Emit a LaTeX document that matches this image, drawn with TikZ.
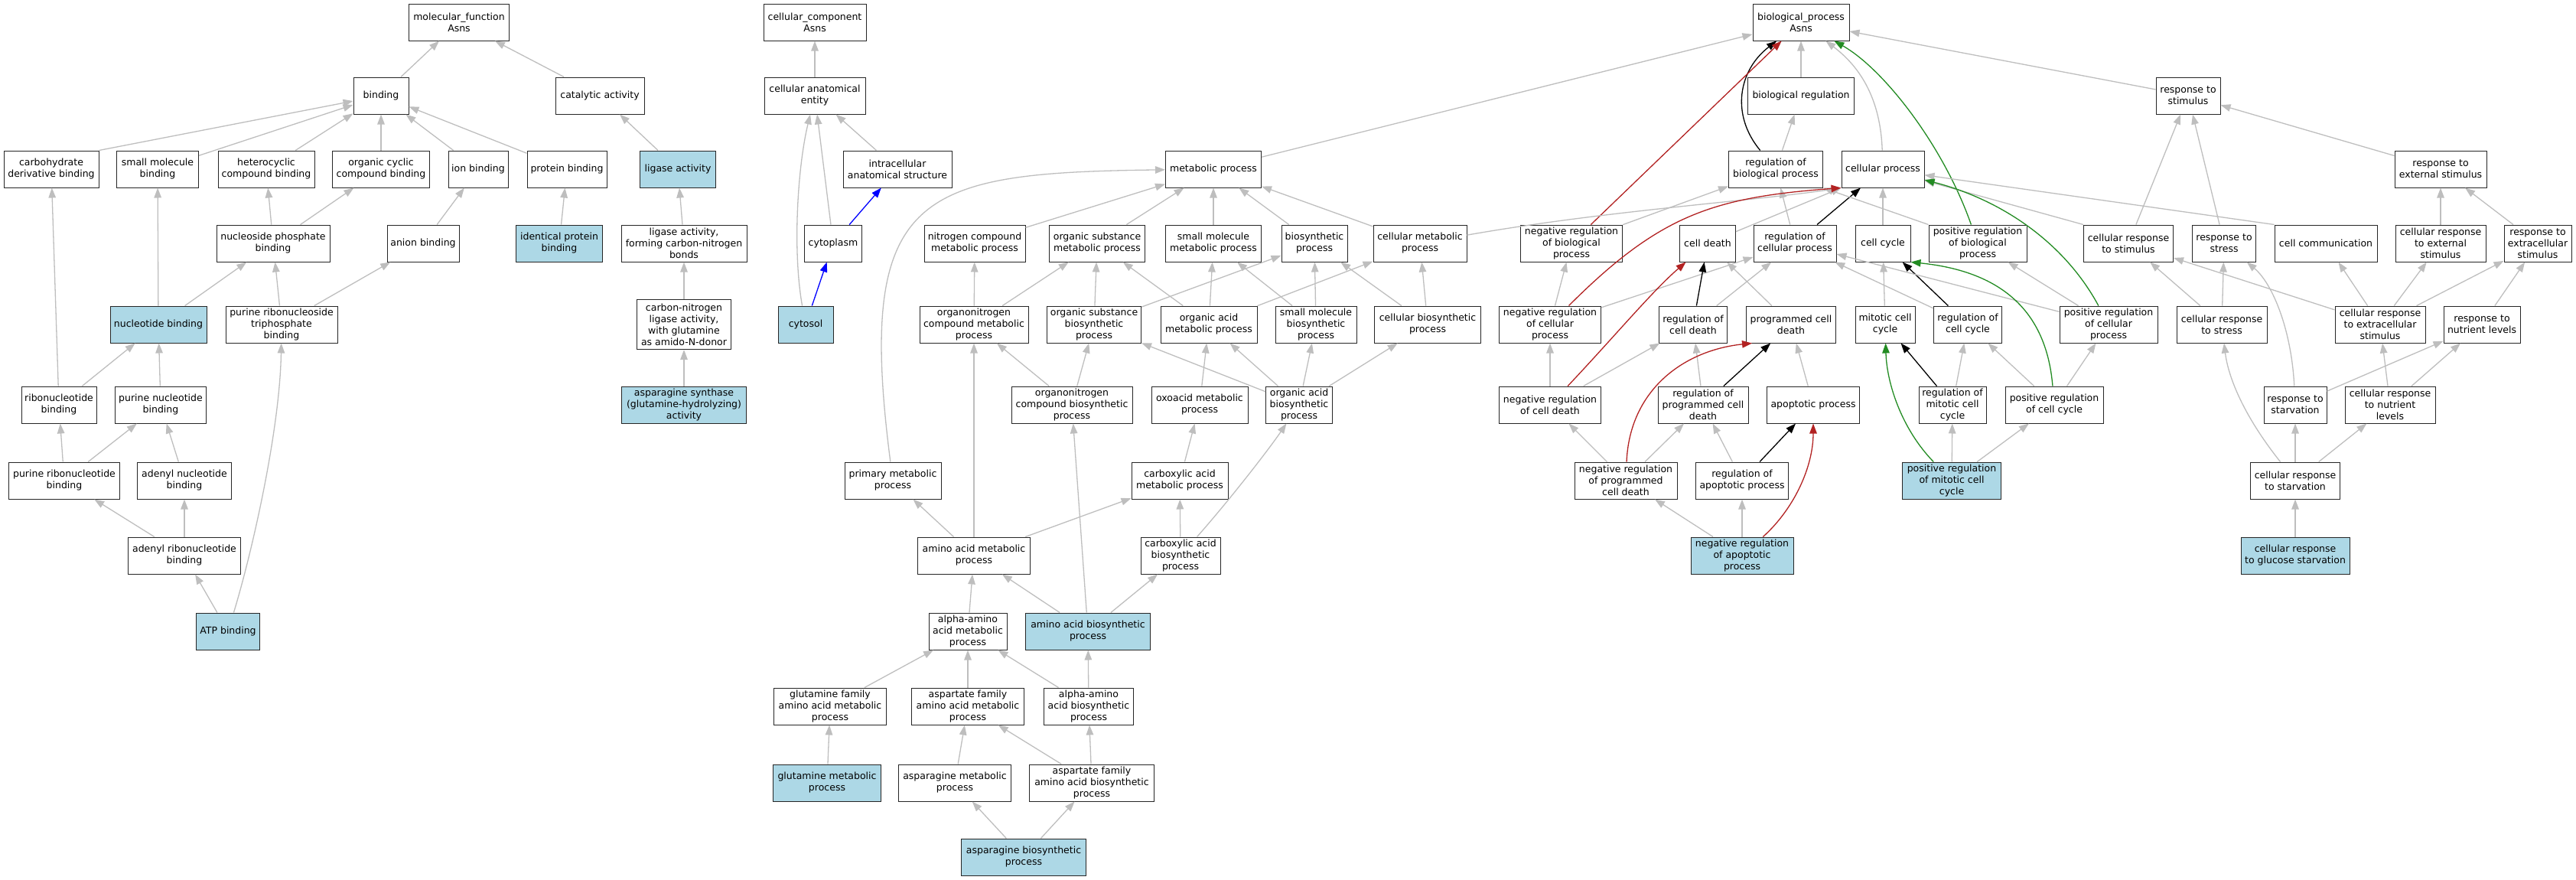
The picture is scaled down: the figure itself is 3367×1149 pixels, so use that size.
\documentclass[tikz,border=0pt]{standalone}
\usepackage{fontspec}
\setmainfont{DejaVu Sans}
\usetikzlibrary{arrows.meta}
\definecolor{isagray}{HTML}{BEBEBE}
\definecolor{hitblue}{HTML}{ADD8E6}
\definecolor{negred}{HTML}{B22222}
\definecolor{posgreen}{HTML}{228B22}
\tikzset{
  term/.style={draw=black!85, line width=1pt, fill=white, align=center, font=\fontsize{12.5}{15}\selectfont, minimum height=48pt, inner xsep=1.5pt, inner ysep=1pt},
  hit/.style={term, fill=hitblue},
  wd/.style={minimum width=#1pt},
  isa/.style={draw=isagray, line width=1.3pt, -{Triangle[length=13pt,width=9.5pt]}},
  partof/.style={isa, draw=blue},
  regs/.style={isa, draw=black},
  negregs/.style={isa, draw=negred},
  posregs/.style={isa, draw=posgreen}
}
\begin{document}
\begin{tikzpicture}[x=1pt,y=-1pt]
\useasboundingbox (0,0) rectangle (3367,1149);
\node[term,wd=131] (mf) at (600,29) {molecular\_function\\Asns};
\node[term,wd=72] (bind) at (498,125) {binding};
\node[term,wd=116] (catal) at (784,125) {catalytic activity};
\node[term,wd=124] (carbder) at (67,221) {carbohydrate\\derivative binding};
\node[term,wd=107] (smolb) at (206,221) {small molecule\\binding};
\node[term,wd=126] (hetcyc) at (348,221) {heterocyclic\\compound binding};
\node[term,wd=127] (orgcyc) at (498,221) {organic cyclic\\compound binding};
\node[term,wd=78] (ionb) at (625,221) {ion binding};
\node[term,wd=104] (protb) at (741,221) {protein binding};
\node[hit,wd=99] (ligase) at (886,221) {ligase activity};
\node[term,wd=148] (nucphos) at (357,318) {nucleoside phosphate\\binding};
\node[term,wd=94] (anion) at (553,318) {anion binding};
\node[hit,wd=113] (identp) at (731,318) {identical protein\\binding};
\node[term,wd=164] (ligcn) at (894,318) {ligase activity,\\forming carbon-nitrogen\\bonds};
\node[hit,wd=126] (nucb) at (207,424) {nucleotide binding};
\node[term,wd=146] (prntp) at (368,424) {purine ribonucleoside\\triphosphate\\binding};
\node[term,wd=123,minimum height=65pt] (cnglu) at (894,424) {carbon-nitrogen\\ligase activity,\\with glutamine\\as amido-N-donor};
\node[term,wd=98] (ribob) at (77,529) {ribonucleotide\\binding};
\node[term,wd=119] (purnb) at (210,529) {purine nucleotide\\binding};
\node[hit,wd=163] (asnsyn) at (894,529) {asparagine synthase\\(glutamine-hydrolyzing)\\activity};
\node[term,wd=145] (purrb) at (84,628) {purine ribonucleotide\\binding};
\node[term,wd=123] (adenb) at (241,628) {adenyl nucleotide\\binding};
\node[term,wd=147] (adenrb) at (241,726) {adenyl ribonucleotide\\binding};
\node[hit,wd=83] (atp) at (298,825) {ATP binding};
\node[term,wd=134] (cc) at (1065,29) {cellular\_component\\Asns};
\node[term,wd=132] (cae) at (1065,125) {cellular anatomical\\entity};
\node[term,wd=142] (intra) at (1173,221) {intracellular\\anatomical structure};
\node[term,wd=75] (cyto) at (1089,318) {cytoplasm};
\node[hit,wd=72] (cytosol) at (1053,424) {cytosol};
\node[term,wd=126] (bp) at (2354,29) {biological\_process\\Asns};
\node[term,wd=139] (bioreg) at (2354,125) {biological regulation};
\node[term,wd=84] (resstim) at (2860,125) {response to\\stimulus};
\node[term,wd=125] (metab) at (1586,221) {metabolic process};
\node[term,wd=123] (regbio) at (2321,221) {regulation of\\biological process};
\node[term,wd=108] (cellp) at (2461,221) {cellular process};
\node[term,wd=120] (resext) at (3190,221) {response to\\external stimulus};
\node[term,wd=132] (ncmp) at (1274,318) {nitrogen compound\\metabolic process};
\node[term,wd=125] (osmp) at (1434,318) {organic substance\\metabolic process};
\node[term,wd=125] (smmp) at (1586,318) {small molecule\\metabolic process};
\node[term,wd=86] (biosyn) at (1718,318) {biosynthetic\\process};
\node[term,wd=122] (cmp) at (1856,318) {cellular metabolic\\process};
\node[term,wd=133] (nrbio) at (2054,318) {negative regulation\\of biological\\process};
\node[term,wd=73] (celldeath) at (2232,318) {cell death};
\node[term,wd=108] (regcp) at (2346,318) {regulation of\\cellular process};
\node[term,wd=72] (cellcyc) at (2461,318) {cell cycle};
\node[term,wd=128] (prbio) at (2585,318) {positive regulation\\of biological\\process};
\node[term,wd=117] (crstim) at (2782,318) {cellular response\\to stimulus};
\node[term,wd=83] (rstress) at (2907,318) {response to\\stress};
\node[term,wd=134] (cellcom) at (3040,318) {cell communication};
\node[term,wd=118] (crext) at (3190,318) {cellular response\\to external\\stimulus};
\node[term,wd=88] (rextra) at (3317,318) {response to\\extracellular\\stimulus};
\node[term,wd=142] (oncmp) at (1273,424) {organonitrogen\\compound metabolic\\process};
\node[term,wd=123] (osbp) at (1430,424) {organic substance\\biosynthetic\\process};
\node[term,wd=126] (oamp) at (1580,424) {organic acid\\metabolic process};
\node[term,wd=106] (smbp) at (1720,424) {small molecule\\biosynthetic\\process};
\node[term,wd=139] (cbp) at (1866,424) {cellular biosynthetic\\process};
\node[term,wd=133] (nrcp) at (2026,424) {negative regulation\\of cellular\\process};
\node[term,wd=89] (regcd) at (2213,424) {regulation of\\cell death};
\node[term,wd=117] (pcd) at (2341,424) {programmed cell\\death};
\node[term,wd=78] (mitcc) at (2464,424) {mitotic cell\\cycle};
\node[term,wd=89] (regcc) at (2572,424) {regulation of\\cell cycle};
\node[term,wd=128] (prcp) at (2756,424) {positive regulation\\of cellular\\process};
\node[term,wd=118] (crstress) at (2904,424) {cellular response\\to stress};
\node[term,wd=118] (crextra) at (3111,424) {cellular response\\to extracellular\\stimulus};
\node[term,wd=100] (rnutr) at (3244,424) {response to\\nutrient levels};
\node[term,wd=158] (oncbp) at (1401,529) {organonitrogen\\compound biosynthetic\\process};
\node[term,wd=126] (oxomp) at (1568,529) {oxoacid metabolic\\process};
\node[term,wd=87] (oabp) at (1698,529) {organic acid\\biosynthetic\\process};
\node[term,wd=133] (nrcd) at (2026,529) {negative regulation\\of cell death};
\node[term,wd=118] (regpcd) at (2226,529) {regulation of\\programmed cell\\death};
\node[term,wd=121] (apop) at (2370,529) {apoptotic process};
\node[term,wd=88] (regmcc) at (2552,529) {regulation of\\mitotic cell\\cycle};
\node[term,wd=128] (prcc) at (2685,529) {positive regulation\\of cell cycle};
\node[term,wd=82] (rstarv) at (3000,529) {response to\\starvation};
\node[term,wd=118] (crnutr) at (3124,529) {cellular response\\to nutrient\\levels};
\node[term,wd=126] (primp) at (1167,628) {primary metabolic\\process};
\node[term,wd=126] (camp) at (1542,628) {carboxylic acid\\metabolic process};
\node[term,wd=134] (nrpcd) at (2125,628) {negative regulation\\of programmed\\cell death};
\node[term,wd=121] (regap) at (2277,628) {regulation of\\apoptotic process};
\node[hit,wd=129] (prmcc) at (2551,628) {positive regulation\\of mitotic cell\\cycle};
\node[term,wd=117] (crstarv) at (3000,628) {cellular response\\to starvation};
\node[term,wd=147] (aamp) at (1273,726) {amino acid metabolic\\process};
\node[term,wd=104] (cabp) at (1543,726) {carboxylic acid\\biosynthetic\\process};
\node[hit,wd=134] (nrap) at (2277,726) {negative regulation\\of apoptotic\\process};
\node[hit,wd=142] (crglu) at (3000,726) {cellular response\\to glucose starvation};
\node[term,wd=102] (alphamp) at (1265,825) {alpha-amino\\acid metabolic\\process};
\node[hit,wd=163] (aabp) at (1422,825) {amino acid biosynthetic\\process};
\node[term,wd=147] (glnfam) at (1085,923) {glutamine family\\amino acid metabolic\\process};
\node[term,wd=147] (aspfam) at (1265,923) {aspartate family\\amino acid metabolic\\process};
\node[term,wd=117] (alphabp) at (1423,923) {alpha-amino\\acid biosynthetic\\process};
\node[hit,wd=141] (glnmp) at (1081,1023) {glutamine metabolic\\process};
\node[term,wd=147] (asnmp) at (1248,1023) {asparagine metabolic\\process};
\node[term,wd=163] (aspfambp) at (1427,1023) {aspartate family\\amino acid biosynthetic\\process};
\node[hit,wd=163] (asnbp) at (1338,1120) {asparagine biosynthetic\\process};
\draw[isa] (bind) -- (mf);
\draw[isa] (catal) -- (mf);
\draw[isa] (carbder.north east) -- (bind);
\draw[isa] (smolb) -- (bind);
\draw[isa] (hetcyc) -- (bind);
\draw[isa] (orgcyc) -- (bind);
\draw[isa] (ionb) -- (bind);
\draw[isa] (protb) -- (bind);
\draw[isa] (ligase) -- (catal);
\draw[isa] (identp) -- (protb);
\draw[isa] (ligcn) -- (ligase);
\draw[isa] (cnglu) -- (ligcn);
\draw[isa] (asnsyn) -- (cnglu);
\draw[isa] (nucphos) -- (hetcyc);
\draw[isa] (nucphos) -- (orgcyc);
\draw[isa] (anion) -- (ionb);
\draw[isa] (nucb) -- (smolb);
\draw[isa] (nucb) -- (nucphos);
\draw[isa] (prntp) -- (nucphos);
\draw[isa] (prntp) -- (anion);
\draw[isa] (ribob) -- (carbder);
\draw[isa] (ribob) -- (nucb);
\draw[isa] (purnb) -- (nucb);
\draw[isa] (purrb) -- (ribob);
\draw[isa] (purrb) -- (purnb);
\draw[isa] (adenb) -- (purnb);
\draw[isa] (adenrb) -- (purrb);
\draw[isa] (adenrb) -- (adenb);
\draw[isa] (atp) -- (adenrb);
\draw[isa] (atp) .. controls (330,720) and (366,560) .. (prntp);
\draw[isa] (cae) -- (cc);
\draw[isa] (intra) -- (cae);
\draw[isa] (cyto) -- (cae);
\draw[isa] (cytosol) .. controls (1036,330) and (1042,220) .. (cae);
\draw[partof] (cyto) -- (intra);
\draw[partof] (cytosol) -- (cyto);
\draw[isa] (metab) -- (bp);
\draw[isa] (bioreg) -- (bp);
\draw[regs] (regbio) .. controls (2262,150) and (2272,92) .. (bp);
\draw[isa] (cellp) .. controls (2458,130) and (2432,88) .. (bp);
\draw[isa] (resstim) -- (bp);
\draw[negregs] (nrbio) -- (bp);
\draw[posregs] (prbio) .. controls (2540,190) and (2462,90) .. (bp);
\draw[isa] (regbio) -- (bioreg);
\draw[isa] (ncmp) -- (metab);
\draw[isa] (osmp) -- (metab);
\draw[isa] (smmp) -- (metab);
\draw[isa] (biosyn) -- (metab);
\draw[isa] (cmp) -- (metab);
\draw[isa] (primp) .. controls (1118,250) and (1200,226) .. (metab);
\draw[isa] (cmp) .. controls (2100,275) and (2300,262) .. (cellp.south west);
\draw[isa] (oncmp) -- (ncmp);
\draw[isa] (oncmp) -- (osmp);
\draw[isa] (osbp) -- (osmp);
\draw[isa] (osbp) -- (biosyn);
\draw[isa] (oamp) -- (osmp);
\draw[isa] (oamp) -- (smmp);
\draw[isa] (oamp) -- (cmp);
\draw[isa] (smbp) -- (smmp);
\draw[isa] (smbp) -- (biosyn);
\draw[isa] (cbp) -- (biosyn);
\draw[isa] (cbp) -- (cmp);
\draw[isa] (oncbp) -- (oncmp);
\draw[isa] (oncbp) -- (osbp);
\draw[isa] (oxomp) -- (oamp);
\draw[isa] (oabp) -- (osbp);
\draw[isa] (oabp) -- (oamp);
\draw[isa] (oabp) -- (smbp);
\draw[isa] (oabp) -- (cbp);
\draw[isa] (camp) -- (oxomp);
\draw[isa] (cabp) -- (camp);
\draw[isa] (cabp) .. controls (1610,650) and (1660,585) .. (oabp);
\draw[isa] (aamp) -- (primp);
\draw[isa] (aamp) -- (oncmp);
\draw[isa] (aamp) -- (camp);
\draw[isa] (alphamp) -- (aamp);
\draw[isa] (aabp) -- (aamp);
\draw[isa] (aabp) -- (oncbp);
\draw[isa] (aabp) -- (cabp);
\draw[isa] (glnfam) -- (alphamp);
\draw[isa] (aspfam) -- (alphamp);
\draw[isa] (alphabp) -- (alphamp);
\draw[isa] (alphabp) -- (aabp);
\draw[isa] (glnmp) -- (glnfam);
\draw[isa] (asnmp) -- (aspfam);
\draw[isa] (aspfambp) -- (aspfam);
\draw[isa] (aspfambp) -- (alphabp);
\draw[isa] (asnbp) -- (asnmp);
\draw[isa] (asnbp) -- (aspfambp);
\draw[isa] (nrbio) -- (regbio);
\draw[isa] (celldeath) -- (cellp.south west);
\draw[isa] (regcp) -- (regbio);
\draw[regs] (regcp) -- (cellp);
\draw[isa] (cellcyc) -- (cellp);
\draw[isa] (prbio.north west) -- (regbio.south east);
\draw[isa] (crstim.north west) -- (cellp);
\draw[isa] (cellcom.north west) -- (cellp);
\draw[posregs] (prcp) .. controls (2700,320) and (2620,262) .. (cellp);
\draw[negregs] (nrcp) .. controls (2170,280) and (2240,258) .. (cellp.south west);
\draw[isa] (nrcp) -- (nrbio);
\draw[isa] (nrcp) -- (regcp);
\draw[regs] (regcd) -- (celldeath);
\draw[isa] (regcd) -- (regcp);
\draw[isa] (pcd) -- (celldeath);
\draw[isa] (mitcc) -- (cellcyc);
\draw[regs] (regcc) -- (cellcyc);
\draw[isa] (regcc) -- (regcp);
\draw[isa] (prcp) -- (regcp);
\draw[isa] (prcp) -- (prbio);
\draw[isa] (nrcd) -- (nrcp);
\draw[isa] (nrcd) -- (regcd);
\draw[negregs] (nrcd) .. controls (2110,440) and (2160,380) .. (celldeath);
\draw[isa] (regpcd) -- (regcd);
\draw[regs] (regpcd) -- (pcd);
\draw[isa] (apop) -- (pcd);
\draw[regs] (regmcc) -- (mitcc);
\draw[isa] (regmcc) -- (regcc);
\draw[isa] (prcc) -- (regcc);
\draw[posregs] (prcc) .. controls (2675,410) and (2620,355) .. (cellcyc.south east);
\draw[isa] (prcc) -- (prcp);
\draw[isa] (nrpcd) -- (nrcd);
\draw[isa] (nrpcd) -- (regpcd);
\draw[negregs] (nrpcd) .. controls (2130,510) and (2200,458) .. ([xshift=8pt]pcd.south west);
\draw[isa] (regap) -- (regpcd);
\draw[regs] (regap) -- (apop);
\draw[posregs] (prmcc) .. controls (2485,560) and (2466,500) .. (mitcc);
\draw[isa] (prmcc) -- (regmcc);
\draw[isa] (prmcc) -- (prcc);
\draw[isa] (nrap) -- (nrpcd);
\draw[isa] (nrap) -- (regap);
\draw[negregs] (nrap) .. controls (2345,665) and (2370,610) .. (apop);
\draw[isa] (resext) -- (resstim);
\draw[isa] (crstim) -- (resstim);
\draw[isa] (rstress) -- (resstim);
\draw[isa] (crext) -- (resext);
\draw[isa] (rextra) -- (resext);
\draw[isa] (crstress) -- (crstim);
\draw[isa] (crstress) -- (rstress);
\draw[isa] (crextra) -- (crstim);
\draw[isa] (crextra) -- (cellcom);
\draw[isa] (crextra) -- (crext);
\draw[isa] (crextra) -- (rextra);
\draw[isa] (rnutr) -- (rextra);
\draw[isa] (rstarv) .. controls (2995,430) and (2970,370) .. (rstress);
\draw[isa] (rstarv) -- (rnutr);
\draw[isa] (crnutr) -- (crextra);
\draw[isa] (crnutr) -- (rnutr);
\draw[isa] (crstarv) .. controls (2930,540) and (2912,490) .. (crstress);
\draw[isa] (crstarv) -- (rstarv);
\draw[isa] (crstarv) -- (crnutr);
\draw[isa] (crglu) -- (crstarv);
\end{tikzpicture}
\end{document}
